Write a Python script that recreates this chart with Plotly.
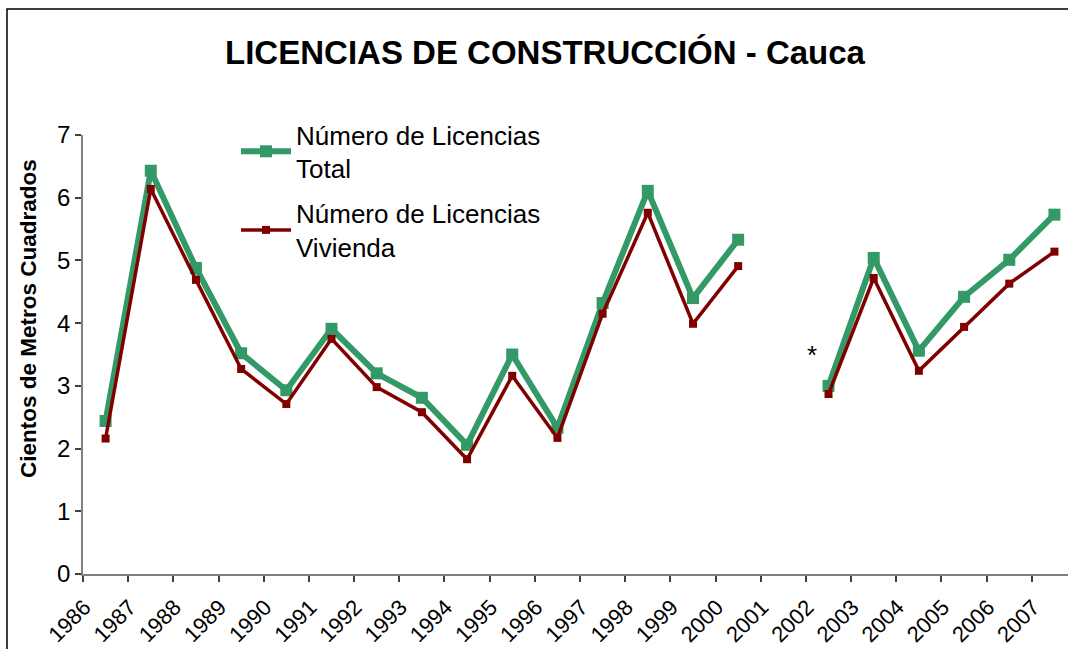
import plotly.graph_objects as go

years = ["1986", "1987", "1988", "1989", "1990", "1991", "1992", "1993", "1994", "1995", "1996",
         "1997", "1998", "1999", "2000", "2001", "2002", "2003", "2004", "2005", "2006", "2007"]
total = [2.44, 6.43, 4.88, 3.52, 2.93, 3.91, 3.20, 2.81, 2.06, 3.50, 2.33,
         4.32, 6.11, 4.40, 5.33, None, 3.00, 5.04, 3.56, 4.42, 5.01, 5.73]
vivienda = [2.16, 6.14, 4.69, 3.27, 2.71, 3.75, 2.98, 2.58, 1.83, 3.16, 2.17,
            4.15, 5.76, 3.99, 4.91, None, 2.87, 4.72, 3.24, 3.94, 4.63, 5.14]
series_names = ["Número de Licencias<br>Total", "Número de Licencias<br>Vivienda"]
title_text = "LICENCIAS DE CONSTRUCCIÓN - Cauca"
y_title = "Cientos de Metros Cuadrados"
note_text = "*"

GREEN = "#339966"
RED = "#800000"
FONT = "Liberation Sans, Arial, sans-serif"

# plot-area geometry in pixels
L, R, T, B = 83, 1068, 135, 574
PW, PH = R - L, B - T

xpos = list(range(len(years)))
label_shift = 0.47

fig = go.Figure()
fig.add_trace(go.Scatter(
    x=xpos, y=total, name=series_names[0], mode="lines+markers", legendgroup="a",
    line=dict(color=GREEN, width=6), marker=dict(symbol="square", size=12, color=GREEN),
    connectgaps=False))
fig.add_trace(go.Scatter(
    x=xpos, y=vivienda, name=series_names[1], mode="lines+markers", legendgroup="b",
    line=dict(color=RED, width=3.5), marker=dict(symbol="square", size=8, color=RED),
    connectgaps=False))

fig.add_annotation(x=15.63, y=3.49, xref="x", yref="y", text=note_text, showarrow=False,
                   font=dict(family=FONT, size=26, color="black"))

fig.add_annotation(x=(28 - L) / PW, y=(B - 319) / PH, xref="paper", yref="paper",
                   text="<b>" + y_title + "</b>", textangle=-90, showarrow=False,
                   xanchor="center", yanchor="middle",
                   font=dict(family=FONT, size=22.5, color="black"))

# outer chart frame
fig.add_shape(type="rect", xref="paper", yref="paper",
              x0=(7 - L) / PW, x1=1.2, y0=-0.4, y1=(B - 9) / PH,
              line=dict(color="black", width=1.5), fillcolor="rgba(0,0,0,0)")

fig.update_layout(
    width=1068, height=649,
    margin=dict(l=L, r=1068 - R, t=T, b=649 - B, autoexpand=False),
    paper_bgcolor="white", plot_bgcolor="white",
    title=dict(text="<b>" + title_text + "</b>", x=545 / 1068, xanchor="center", xref="container",
               y=1 - 52 / 649, yanchor="middle", yref="container",
               font=dict(family=FONT, size=33, color="black")),
    font=dict(family=FONT, color="black"),
    legend=dict(x=(236 - L) / PW, y=(B - 111) / PH, xanchor="left", yanchor="top",
                bgcolor="rgba(0,0,0,0)", font=dict(family=FONT, size=26, color="black"),
                tracegroupgap=8, itemwidth=50),
    showlegend=True,
)

fig.update_xaxes(
    range=[-0.5, 21.3], showgrid=False, zeroline=False,
    showline=True, linecolor="#808080", linewidth=1.5,
    tickmode="array", tickvals=[p - label_shift for p in xpos], ticktext=years,
    ticks="", tickangle=-45, tickfont=dict(family=FONT, size=22, color="black"),
    ticklabelstandoff=10,
    minor=dict(tick0=-0.5, dtick=1, ticks="outside", ticklen=6, tickcolor="#404040", tickwidth=1.5),
)
fig.update_yaxes(
    range=[0, 7], showgrid=False, zeroline=False,
    showline=True, linecolor="#808080", linewidth=1.5,
    tickmode="array", tickvals=[0, 1, 2, 3, 4, 5, 6, 7],
    ticks="outside", ticklen=6, tickcolor="#404040", tickwidth=1.5,
    tickfont=dict(family=FONT, size=24, color="black"), ticklabelstandoff=0,
)

fig.write_html(
    "out.html",
    config={"displayModeBar": False},
    post_script="document.body.style.margin='0';document.body.style.overflow='hidden';"
                "document.documentElement.style.overflow='hidden';",
)
